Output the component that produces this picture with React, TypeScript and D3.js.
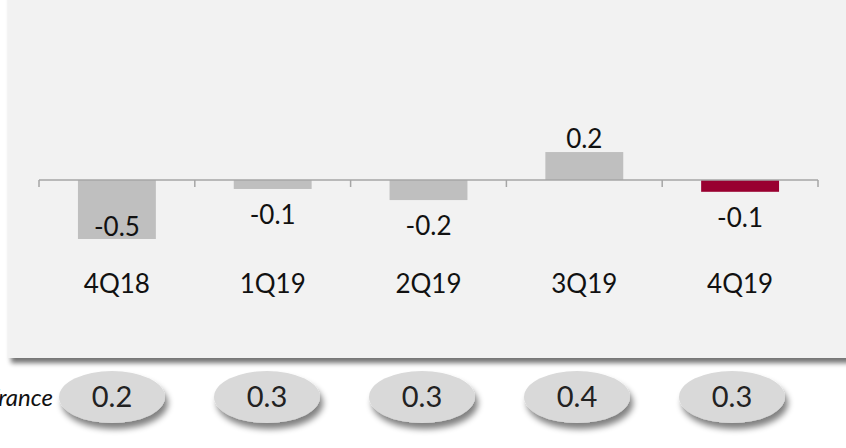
import React from "react";
import * as d3 from "d3";

const categories = ["4Q18", "1Q19", "2Q19", "3Q19", "4Q19"];
const values = [-0.5, -0.076, -0.17, 0.237, -0.1];
const highlight = ["4Q19"];
const rowLabel = "France";
const rowValues = ["0.2", "0.3", "0.3", "0.4", "0.3"];

const W = 846;
const H = 448;

export default function App() {
  const x = d3.scaleBand<string>().domain(categories).range([39, 818]).paddingInner(0).paddingOuter(0);
  const y = d3.scaleLinear().domain([-0.5, 0]).range([239, 180]);
  const ex = d3.scalePoint<string>().domain(categories).range([112, 732]);
  const fmt = (v: number) => d3.format(".1f")(v).replace("\u2212", "-");
  const font = "Lato, 'Open Sans', sans-serif";
  const bw = x.bandwidth() / 2;
  const ticks = [...categories.map((c) => x(c) as number), x.range()[1]];
  return (
    <svg width={W} height={H} style={{ position: "absolute", left: 0, top: 0 }} fontFamily={font}>
      <defs>
        <filter id="pshadow" x="-5%" y="-5%" width="115%" height="120%">
          <feGaussianBlur in="SourceAlpha" stdDeviation="2.5" />
          <feOffset dx="3" dy="5" result="b" />
          <feComponentTransfer>
            <feFuncA type="linear" slope="0.55" />
          </feComponentTransfer>
          <feMerge>
            <feMergeNode />
            <feMergeNode in="SourceGraphic" />
          </feMerge>
        </filter>
        <filter id="eshadow" x="-20%" y="-30%" width="150%" height="180%">
          <feGaussianBlur in="SourceAlpha" stdDeviation="3" />
          <feOffset dx="3" dy="6" result="b" />
          <feComponentTransfer>
            <feFuncA type="linear" slope="0.5" />
          </feComponentTransfer>
          <feMerge>
            <feMergeNode />
            <feMergeNode in="SourceGraphic" />
          </feMerge>
        </filter>
      </defs>
      <rect x={8} y={-20} width={W + 20} height={378} fill="#f2f2f2" filter="url(#pshadow)" />
      {categories.map((c, i) => {
        const v = values[i];
        const cx = (x(c) as number) + x.bandwidth() / 2;
        const y0 = y(0);
        const y1 = y(v);
        const top = Math.min(y0, y1);
        const h = Math.abs(y1 - y0);
        const fill = highlight.includes(c) ? "#990030" : "#bfbfbf";
        const ly = v >= 0 ? y1 - 4 : Math.min(y1 + 35, 236);
        return (
          <g key={c}>
            <rect x={cx - bw / 2} y={top} width={bw} height={h} fill={fill} />
            <text x={cx} y={ly} textAnchor="middle" fontSize={26} fill="#111">
              {fmt(v)}
            </text>
            <text x={cx} y={293} textAnchor="middle" fontSize={26} fill="#111">
              {c}
            </text>
          </g>
        );
      })}
      <line x1={x.range()[0]} x2={x.range()[1]} y1={y(0)} y2={y(0)} stroke="#a6a6a6" strokeWidth={1.5} />
      {ticks.map((t, i) => (
        <line key={i} x1={t} x2={t} y1={y(0)} y2={y(0) + 7} stroke="#a6a6a6" strokeWidth={1.5} />
      ))}
      <text x={53} y={406} textAnchor="end" fontSize={24} fontStyle="italic" fill="#111">
        {rowLabel}
      </text>
      {categories.map((c, i) => (
        <g key={"e" + c} transform={`translate(${ex(c)},397)`}>
          <ellipse rx={53} ry={26} fill="#d9d9d9" filter="url(#eshadow)" />
          <text y={10} textAnchor="middle" fontSize={29} fill="#222">
            {rowValues[i]}
          </text>
        </g>
      ))}
    </svg>
  );
}
